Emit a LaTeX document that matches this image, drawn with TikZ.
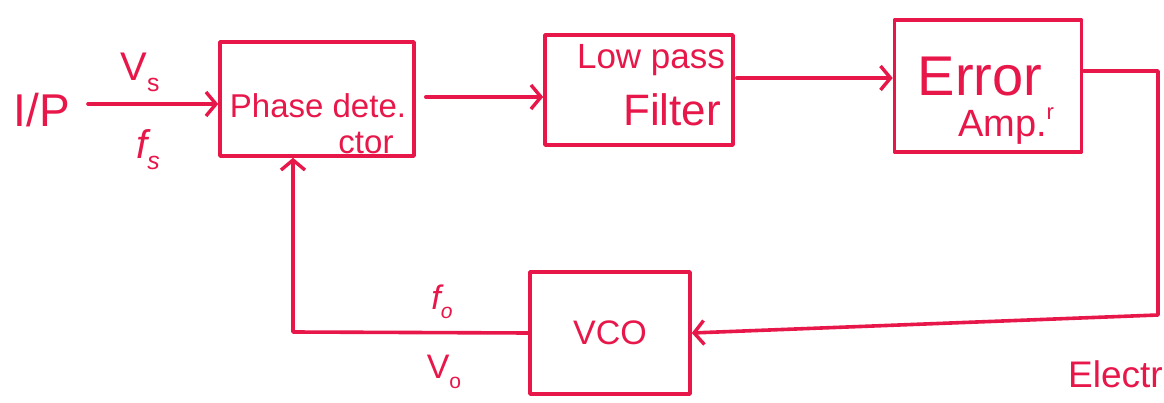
\documentclass[tikz,border=0pt]{standalone}
\usepackage{fontspec}
\setmainfont{Liberation Sans}
\usetikzlibrary{arrows.meta}
\definecolor{ink}{HTML}{E8174A}
\tikzset{
  pen/.style={draw=ink, line width=3.6pt, line cap=round, line join=round},
  blockbox/.style={pen, rectangle, inner sep=0pt},
  flow/.style={pen, -{Straight Barb[length=10pt,width=24pt,line width=3.4pt]}},
  lbl/.style={text=ink, inner sep=0pt},
}
\newcommand{\fs}[1]{\fontsize{#1}{#1}\selectfont}
% letter with a lowered index, in the text font
\newcommand{\idx}[2]{#1\raisebox{-0.28em}{\fontsize{0.62em}{0.62em}\selectfont #2}}
\begin{document}
\begin{tikzpicture}[x=1pt,y=-1pt]
\useasboundingbox (0,0) rectangle (1164,403);
\clip (0,0) rectangle (1164,403);

% blocks
\node[blockbox, minimum width=194pt, minimum height=114pt] (pd)  at (317,99) {};
\node[blockbox, minimum width=188pt, minimum height=110pt] (lpf) at (639,90) {};
\node[blockbox, minimum width=187pt, minimum height=132pt] (ea)  at (988,86) {};
\node[blockbox, minimum width=160pt, minimum height=122pt] (vco) at (610,333) {};

% block texts
\node[lbl, font=\fs{33}] (pdt1) at (318,106) {Phase dete.};
\node[lbl, font=\fs{33}] (pdt2) at (366,143) {ctor};
\node[lbl, font=\fs{35}] (lpft1) at (651,60) {Low pass};
\node[lbl, font=\fs{44}] (lpft2) at (672,110) {Filter};
\node[lbl, font=\fs{56}] (eat1) at (980,77) {Error};
\node[lbl, font=\fs{38}] (eat2) at (1006,126) {Amp.\raisebox{0.45em}{\fs{22}r}};
\node[lbl, font=\fs{34}] (vcot) at (vco.center) {VCO};

% signal labels
\node[lbl, font=\fs{46}] (ip) at (42,110) {I/P};
\node[lbl, font=\fs{40}] (vs) at (140,72) {\idx{V}{s}};
\node[lbl, font=\fs{40}\itshape] (fsl) at (148,150) {\idx{f}{s}};
\node[lbl, font=\fs{34}\itshape] (fo) at (442,302) {\idx{f}{o}};
\node[lbl, font=\fs{34}] (vo) at (444,372) {\idx{V}{o}};
\node[lbl, font=\fs{37}, anchor=east] (el) at (1163,374) {Electr};

% connector points
\coordinate (in) at (88,104);
\coordinate (y1) at (0,97);
\coordinate (y2) at (0,78);
\coordinate (y3) at (0,71);
\coordinate (rt) at (1158,71);
\coordinate (rb) at (1158,315);
\coordinate (fb) at (293,332);

% forward path
\draw[flow] (in) -- (pd.west |- in);
\draw[flow, shorten <=10pt] (pd.east |- y1) -- (lpf.west |- y1);
\draw[flow, shorten <=2pt] (lpf.east |- y2) -- (ea.west |- y2);
% loop back through the VCO
\draw[flow] (ea.east |- y3) -- (rt) -- (rb) -- (vco.east);
\draw[flow] (vco.west) -- (fb) -- (fb |- pd.south);
\end{tikzpicture}
\end{document}
